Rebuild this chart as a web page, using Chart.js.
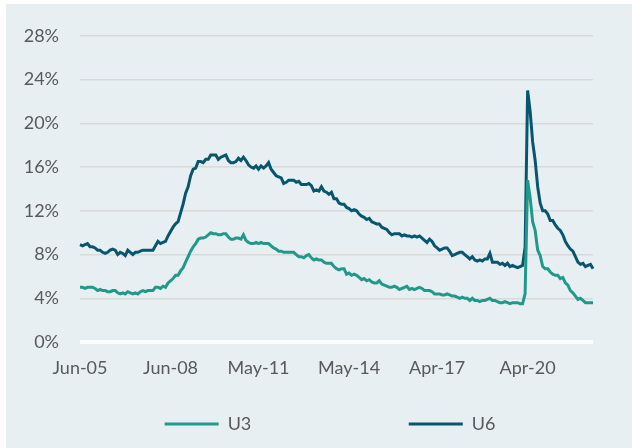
<!DOCTYPE html>
<html>
<head>
<meta charset="utf-8">
<script src="https://cdn.jsdelivr.net/npm/chart.js@4"></script>
<style>
  body { margin: 0; background: #ffffff; }
  .panel {
    position: absolute;
    left: 6px;
    top: 4px;
    width: 626px;
    height: 444px;
    background: #e7eff2;
  }
</style>
</head>
<body>
<div class="panel">
  <canvas id="chart" width="626" height="444"></canvas>
</div>
<script>
// monthly, Jun-05 .. Jun-22
const startYear = 2005;
const startMonth = 5; // June (0-based)
const monthNames = ["Jan", "Feb", "Mar", "Apr", "May", "Jun", "Jul", "Aug", "Sep", "Oct", "Nov", "Dec"];

const u3 = [
  5.0, 5.0, 4.9, 5.0, 5.0, 5.0, 4.9,
  4.7, 4.8, 4.7, 4.7, 4.6, 4.6, 4.7, 4.7, 4.5, 4.4, 4.5, 4.4,
  4.6, 4.5, 4.4, 4.5, 4.4, 4.6, 4.7, 4.6, 4.7, 4.7, 4.7, 5.0,
  5.0, 4.9, 5.1, 5.0, 5.4, 5.6, 5.8, 6.1, 6.1, 6.5, 6.8, 7.3,
  7.8, 8.3, 8.7, 9.0, 9.4, 9.5, 9.5, 9.6, 9.8, 10.0, 9.9, 9.9,
  9.8, 9.8, 9.9, 9.9, 9.6, 9.4, 9.4, 9.5, 9.5, 9.4, 9.8, 9.3,
  9.1, 9.0, 9.0, 9.1, 9.0, 9.1, 9.0, 9.0, 9.0, 8.8, 8.6, 8.5,
  8.3, 8.3, 8.2, 8.2, 8.2, 8.2, 8.2, 8.0, 7.8, 7.8, 7.7, 7.9,
  8.0, 7.7, 7.5, 7.6, 7.5, 7.5, 7.3, 7.2, 7.2, 7.2, 6.9, 6.7,
  6.6, 6.7, 6.7, 6.2, 6.3, 6.1, 6.2, 6.1, 5.9, 5.7, 5.8, 5.6,
  5.7, 5.5, 5.4, 5.4, 5.6, 5.3, 5.2, 5.1, 5.0, 5.0, 5.1, 5.0,
  4.8, 4.9, 5.0, 5.1, 4.8, 4.9, 4.8, 4.9, 5.0, 4.9, 4.7, 4.7,
  4.7, 4.6, 4.4, 4.4, 4.4, 4.3, 4.3, 4.4, 4.3, 4.2, 4.2, 4.1,
  4.0, 4.1, 4.0, 4.0, 3.8, 4.0, 3.8, 3.8, 3.7, 3.8, 3.8, 3.9,
  4.0, 3.8, 3.8, 3.7, 3.6, 3.6, 3.7, 3.6, 3.5, 3.6, 3.6, 3.6,
  3.5, 3.5, 4.4, 14.8, 13.2, 11.0, 10.2, 8.4, 7.9, 6.9, 6.7, 6.7,
  6.4, 6.2, 6.1, 6.1, 5.8, 5.9, 5.4, 5.2, 4.7, 4.5, 4.2, 3.9,
  4.0, 3.8, 3.6, 3.6, 3.6, 3.6,
];

const u6 = [
  8.9, 8.8, 8.9, 9.0, 8.7, 8.7, 8.6,
  8.4, 8.4, 8.2, 8.1, 8.2, 8.4, 8.5, 8.4, 8.0, 8.2, 8.1, 7.9,
  8.4, 8.2, 8.0, 8.2, 8.2, 8.3, 8.4, 8.4, 8.4, 8.4, 8.4, 8.8,
  9.2, 9.0, 9.1, 9.2, 9.7, 10.1, 10.5, 10.8, 11.0, 11.8, 12.6, 13.6,
  14.2, 15.2, 15.8, 15.9, 16.5, 16.5, 16.4, 16.7, 16.7, 17.1, 17.1, 17.1,
  16.7, 16.9, 17.0, 17.1, 16.6, 16.4, 16.4, 16.5, 16.8, 16.6, 16.9, 16.6,
  16.2, 16.0, 15.9, 16.1, 15.8, 16.1, 15.9, 16.1, 16.4, 15.8, 15.5, 15.2,
  15.1, 15.0, 14.5, 14.6, 14.8, 14.8, 14.8, 14.6, 14.7, 14.4, 14.4, 14.4,
  14.5, 14.3, 13.8, 13.9, 13.8, 14.2, 13.8, 13.7, 13.5, 13.7, 13.1, 13.1,
  12.7, 12.6, 12.6, 12.3, 12.2, 12.0, 12.1, 12.0, 11.7, 11.5, 11.4, 11.2,
  11.3, 11.0, 10.9, 10.8, 10.8, 10.5, 10.4, 10.3, 10.0, 9.8, 9.9, 9.9,
  9.9, 9.7, 9.8, 9.7, 9.7, 9.6, 9.7, 9.6, 9.7, 9.5, 9.3, 9.1,
  9.4, 9.2, 8.8, 8.6, 8.4, 8.5, 8.6, 8.6, 8.3, 7.9, 8.0, 8.1,
  8.2, 8.2, 8.0, 7.8, 7.6, 7.8, 7.5, 7.4, 7.5, 7.4, 7.6, 7.6,
  8.1, 7.3, 7.3, 7.3, 7.1, 7.2, 7.0, 7.2, 6.9, 7.0, 6.9, 6.8,
  6.9, 7.0, 8.7, 23.0, 21.1, 18.3, 16.6, 14.2, 12.7, 12.0, 12.0, 11.7,
  11.1, 11.1, 10.7, 10.4, 10.2, 9.8, 9.2, 8.8, 8.5, 8.3, 7.8, 7.3,
  7.1, 7.2, 6.9, 7.0, 7.1, 6.7,
];

const xTickLabels = ["Jun-05", "Jun-08", "May-11", "May-14", "Apr-17", "Apr-20"];
const yTicks = [0, 4, 8, 12, 16, 20, 24, 28];

const labels = u3.map((_, i) => {
  const m = startMonth + i;
  const y = startYear + Math.floor(m / 12);
  return monthNames[m % 12] + "-" + String(y).slice(2);
});

const textColor = "#595959";
const font = { family: "Lato", size: 18 };
// spacing between / after the legend entries
const nb = (n) => "\u00a0".repeat(n);

new Chart(document.getElementById("chart"), {
  type: "line",
  data: {
    labels: labels,
    datasets: [
      {
        label: "U3",
        data: u3,
        borderColor: "#21998a",
        backgroundColor: "#21998a",
        borderWidth: 3,
        pointRadius: 0,
        tension: 0,
      },
      {
        label: "U6",
        data: u6,
        borderColor: "#07566e",
        backgroundColor: "#07566e",
        borderWidth: 3,
        pointRadius: 0,
        tension: 0,
      },
    ],
  },
  options: {
    responsive: false,
    animation: false,
    layout: {
      padding: { left: 0, right: 39, top: 27, bottom: 5 },
    },
    plugins: {
      tooltip: { enabled: false },
      legend: {
        position: "bottom",
        align: "end",
        labels: {
          font: font,
          color: textColor,
          boxWidth: 54,
          boxHeight: 3,
          padding: 10,
          generateLabels: (chart) =>
            chart.data.datasets.map((ds, i) => ({
              text: ds.label + (i === 0 ? nb(32) : nb(19)),
              fillStyle: ds.borderColor,
              strokeStyle: ds.borderColor,
              lineWidth: 0,
              fontColor: textColor,
              datasetIndex: i,
            })),
        },
      },
    },
    scales: {
      x: {
        afterFit: (axis) => { axis.height = 63; },
        afterBuildTicks: (axis) => {
          axis.ticks = xTickLabels.map((t) => ({ value: labels.indexOf(t) }));
        },
        grid: { display: false },
        border: { display: false },
        ticks: {
          autoSkip: false,
          maxRotation: 0,
          padding: 7,
          color: textColor,
          font: font,
          callback: function (value) {
            return this.getLabelForValue(value);
          },
        },
      },
      y: {
        min: 0,
        max: 28,
        afterFit: (axis) => { axis.width = 74; },
        afterBuildTicks: (axis) => {
          axis.ticks = yTicks.map((v) => ({ value: v }));
        },
        border: { display: false },
        grid: {
          drawTicks: false,
          color: (ctx) => (ctx.tick && ctx.tick.value === 0 ? "#ffffff" : "#d9d9d9"),
          lineWidth: (ctx) => (ctx.tick && ctx.tick.value === 0 ? 4 : 1.5),
        },
        ticks: {
          padding: 21,
          color: textColor,
          font: font,
          callback: (value) => value + "%",
        },
      },
    },
  },
});
</script>
</body>
</html>
